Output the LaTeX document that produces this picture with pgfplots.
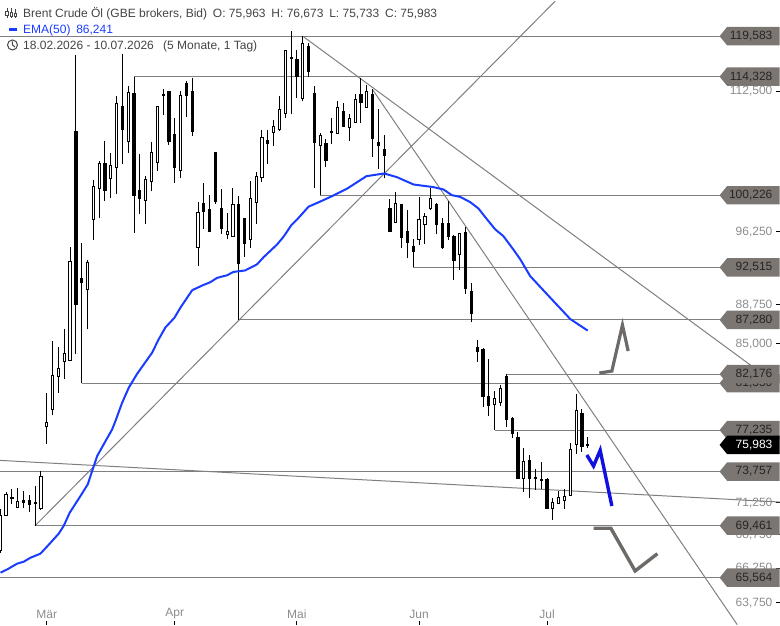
\documentclass[border=0pt]{standalone}
\usepackage{fontspec}
\setmainfont{Liberation Sans}
\usepackage{pgfplots}
\usepackage{pgfplotstable}
\pgfplotsset{compat=1.18}
\definecolor{flagc}{HTML}{7B7671}
\definecolor{linec}{HTML}{7F7F7F}
\definecolor{tickc}{HTML}{8C8C8C}
\definecolor{headc}{HTML}{444444}
\definecolor{emac}{HTML}{1A3CFF}
\definecolor{projg}{HTML}{6E6A68}
\definecolor{projb}{HTML}{1010E0}
\pgfplotstableread{
o h l c
67.54 70.76 67.39 70.26
70.26 72.10 70.21 71.92
71.71 72.32 71.13 71.57
70.86 72.43 70.81 71.36
71.44 72.18 70.81 71.25
71.44 71.87 70.54 71.13
71.31 72.59 69.461 71.18
70.76 73.80 70.68 73.37
77.52 80.50 76.02 77.93
78.98 85.25 78.53 82.10
81.95 84.68 80.50 82.71
83.36 86.40 81.76 84.11
83.45 94.62 83.45 93.16
107.62 117.17 84.06 88.75
91.39 95.07 81.35 90.95
90.23 93.27 86.37 93.06
97.57 101.92 95.39 101.25
100.94 104.09 97.75 103.86
103.83 106.43 99.58 100.80
102.07 104.99 99.91 103.60
103.32 111.87 100.39 110.97
110.64 117.21 103.78 107.77
106.35 113.12 105.05 112.37
112.25 114.328 96.10 100.16
100.80 104.95 98.18 99.83
99.65 102.37 97.09 102.03
101.78 106.35 100.69 105.14
103.94 110.64 102.95 110.61
112.09 112.71 109.54 111.96
112.50 112.58 105.97 106.43
107.22 109.14 101.62 103.32
103.02 112.50 102.20 112.00
113.46 113.75 109.30 112.00
112.50 114.17 107.01 107.53
94.55 99.46 92.65 98.37
99.32 101.55 96.56 98.40
98.66 100.21 96.24 96.32
105.14 105.14 99.28 99.58
98.77 100.87 96.03 96.56
95.96 98.23 95.43 96.28
95.78 100.99 95.71 99.21
99.21 100.13 87.28 92.88
97.71 97.71 93.61 94.97
95.43 101.81 94.55 99.88
99.43 102.83 97.09 102.34
102.18 107.74 101.73 106.86
106.51 107.74 103.78 106.11
107.46 108.94 105.85 108.18
107.82 111.87 107.62 110.24
109.70 117.73 109.22 117.69
116.82 120.24 109.66 116.60
116.52 117.82 111.67 114.29
111.59 119.583 111.26 118.61
118.26 118.69 114.29 114.93
112.21 113.21 101.05 106.23
105.92 107.41 100.226 107.10
106.16 106.67 103.43 104.23
107.62 109.14 106.11 107.41
107.34 111.34 107.34 110.43
110.03 110.97 108.13 108.22
108.01 109.70 106.43 109.14
108.69 112.16 108.61 111.47
112.09 114.17 108.61 111.05
110.43 113.25 110.43 112.50
112.09 112.71 104.59 106.70
106.27 110.24 103.21 105.87
105.49 107.10 102.18 104.71
98.77 99.76 96.18 96.32
97.25 100.57 97.21 99.32
99.20 99.20 94.52 95.60
96.28 98.55 93.50 95.07
94.73 95.43 92.515 94.13
95.43 100.05 94.83 97.57
97.03 98.29 94.97 97.86
98.73 100.99 98.55 99.88
99.21 99.32 95.96 97.03
97.17 97.71 94.47 94.54
97.17 99.58 95.33 95.71
95.78 95.89 91.19 93.24
93.86 96.10 92.21 96.07
96.18 96.78 89.84 90.34
90.08 90.95 87.05 87.89
84.69 85.35 83.32 84.31
84.47 84.56 79.24 80.21
80.18 83.54 78.45 79.35
79.47 80.65 77.235 80.00
79.61 81.19 79.35 80.89
81.95 82.176 77.50 78.13
78.27 78.36 76.58 76.92
76.64 77.07 73.17 73.17
73.17 75.69 72.10 74.60
74.71 75.10 71.65 73.17
73.31 73.94 72.26 73.17
73.15 74.54 72.37 73.01
73.15 73.23 70.78 70.78
70.81 71.60 69.92 71.25
71.21 72.18 71.13 71.68
71.44 72.32 70.78 71.76
71.84 76.11 71.84 75.60
75.98 80.39 75.23 78.94
78.71 79.03 75.40 75.82
75.963 76.673 75.733 75.983
}\candles
\pgfplotstableread{
x y
0.05 65.93
1.2 66.17
2.9 66.59
4.05 66.74
5.2 67.03
6.9 67.33
8.3 67.99
10.06 68.85
10.9 69.43
11.95 70.47
13.8 71.79
15.05 72.72
15.8 73.80
16.66 75.04
18.1 76.30
19.24 77.30
19.8 78.01
20.95 79.61
22.1 80.95
23.5 82.18
26.1 84.15
27.24 85.42
28.4 86.55
29.94 87.48
31 88.49
33 90.2
34.9 90.72
36.1 91.0
37.3 91.45
39 91.71
40.1 92.05
42.1 92.2
44.15 92.83
45.3 93.58
47.6 94.90
48.7 95.71
50.05 96.96
51.3 97.75
53 98.96
55 99.52
57.3 100.2
59.6 100.95
62.95 102.37
66 102.68
68.2 102.26
71.05 101.43
74.5 101.13
76.2 100.87
77.65 100.23
79.1 100.04
80.8 99.46
82.2 98.77
83.7 97.57
85.1 96.50
86.5 95.78
88.2 94.38
89.4 93.35
91.1 91.63
95.1 89.12
98 87.36
101 86.241
}\ema
\newcommand{\fs}{\fontsize{12pt}{14pt}\selectfont}
\newcommand{\flag}[2][flagc]{%
  \fill[#1] (axis cs:123.67,#2) -- ([xshift=7.5pt,yshift=9.2pt]axis cs:123.67,#2) -- ([xshift=60.5pt,yshift=9.2pt]axis cs:123.67,#2) -- ([xshift=60.5pt,yshift=-9.2pt]axis cs:123.67,#2) -- ([xshift=7.5pt,yshift=-9.2pt]axis cs:123.67,#2) -- cycle;
}
\newcommand{\flagtext}[3][black!85]{%
  \node[anchor=east,inner sep=0pt,text=#1,font=\fs] at ([xshift=53pt]axis cs:123.67,#2) {#3};
}
\begin{document}
\begin{tikzpicture}
\path (0,0) rectangle (780pt,625pt);
\begin{axis}[
  at={(0,0)},anchor=south west,
  scale only axis,width=780pt,height=625pt,
  set layers,
  ymode=log,
  xmin=-0.04,xmax=133.98,ymin=62.23,ymax=124.48,
  axis line style={draw=none},
  xtick={8,30,51,72,94},
  xticklabels={Mär,Apr,Mai,Jun,Jul},
  ytick={63.75,66.25,68.75,71.25,85,88.75,96.25,112.5,125},
  yticklabels={{63,750},{66,250},{68,750},{71,250},{85,000},{88,750},{96,250},{112,500},{125,000}},
  minor tick num=0,
  yticklabel pos=right,
  xticklabel pos=lower,
  ytick pos=right,
  xtick pos=lower,
  tick align=inside,
  major tick length=3.5pt,
  tick style={black,line width=0.9pt},
  y tick label style={overlay,anchor=east,inner sep=0pt,xshift=-7pt,text=tickc,font=\fs},
  x tick label style={overlay,anchor=south,inner sep=0pt,yshift=5.5pt,text=tickc,font=\fs},
]
% support and resistance levels
\addplot[linec,line width=1.1pt] coordinates {(-0.04,119.583)(123.67,119.583)};
\addplot[linec,line width=1.1pt] coordinates {(23,114.328)(123.67,114.328)};
\addplot[linec,line width=1.1pt] coordinates {(55,100.226)(123.67,100.226)};
\addplot[linec,line width=1.1pt] coordinates {(71,92.515)(123.67,92.515)};
\addplot[linec,line width=1.1pt] coordinates {(41,87.28)(123.67,87.28)};
\addplot[linec,line width=1.1pt] coordinates {(87,82.176)(123.67,82.176)};
\addplot[linec,line width=1.1pt] coordinates {(14,81.35)(123.67,81.35)};
\addplot[linec,line width=1.1pt] coordinates {(85,77.235)(123.67,77.235)};
\addplot[linec,line width=1.1pt] coordinates {(-0.04,73.757)(123.67,73.757)};
\addplot[linec,line width=1.1pt] coordinates {(6,69.461)(123.67,69.461)};
\addplot[linec,line width=1.1pt] coordinates {(-0.04,65.564)(123.67,65.564)};
% trend lines
\addplot[linec,line width=1pt] coordinates {(6,69.461)(95.4,124.31)};
\addplot[linec,line width=1pt] coordinates {(52,119.583)(129.2,82.92)};
\addplot[linec,line width=1pt] coordinates {(64,112.71)(126.7,62.23)};
\addplot[linec,line width=1pt] coordinates {(-0.04,74.68)(133.98,71.31)};
% candles
\pgfplotsinvokeforeach{0,...,101}{%
  \pgfplotstablegetelem{#1}{o}\of\candles \let\cO\pgfplotsretval
  \pgfplotstablegetelem{#1}{h}\of\candles \let\cH\pgfplotsretval
  \pgfplotstablegetelem{#1}{l}\of\candles \let\cL\pgfplotsretval
  \pgfplotstablegetelem{#1}{c}\of\candles \let\cC\pgfplotsretval
  \pgfmathtruncatemacro\cUp{\cC>\cO ? 1 : 0}%
  \ifnum\cUp=1 \def\cF{white}\else\def\cF{black}\fi
  \pgfmathsetmacro\xa{#1-0.19}\pgfmathsetmacro\xb{#1+0.19}%
  \edef\tmp{\noexpand\addplot[black,line width=1pt] coordinates {(#1,\cL)(#1,\cH)};}\tmp
  \edef\tmp{\noexpand\addplot[draw=black,fill=\cF,line width=0.9pt] coordinates {(\xa,\cO)(\xb,\cO)(\xb,\cC)(\xa,\cC)} --cycle;}\tmp
}
% EMA(50)
\addplot[emac,line width=2pt,line join=round] table[x=x,y=y] {\ema};
% projections
\addplot[projg,line width=3.2pt,line join=miter] coordinates {(103,82.28)(105.15,82.46)(106.97,86.78)(107.95,84.31)};
\addplot[projb,line width=3.4pt,line join=miter] coordinates {(100.85,75.13)(102,74.21)(103.14,75.52)(105.15,70.99)};
\addplot[projg,line width=3.4pt,line join=miter] coordinates {(102,69.26)(104.98,69.26)(109.15,66.05)(112.98,67.33)};
% price flags
\flag{119.583} \flagtext{119.583}{119,583}
\flag{114.328} \flagtext{114.328}{114,328}
\flag{100.226} \flagtext{100.226}{100,226}
\flag{92.515} \flagtext{92.515}{92,515}
\flag{87.28} \flagtext{87.28}{87,280}
\flag{81.35} \flagtext{81.35}{81,350}
\flag{82.176} \flagtext{82.176}{82,176}
\flag{77.235} \flagtext{77.235}{77,235}
\flag[black]{75.983} \flagtext[white]{75.983}{75,983}
\flag{73.757} \flagtext{73.757}{73,757}
\flag{69.461} \flagtext{69.461}{69,461}
\flag{65.564} \flagtext{65.564}{65,564}
\end{axis}
% header
\begin{scope}[yshift=625pt,x=1pt,y=-1pt]
\node[anchor=west,inner sep=0pt,text=headc,font=\fs] at (23,14) {Brent Crude Öl (GBE brokers, Bid)\hspace{2.5pt} O: 75,963\hspace{2.5pt} H: 76,673\hspace{2.5pt} L: 75,733\hspace{2.5pt} C: 75,983};
\node[anchor=west,inner sep=0pt,text=emac,font=\fs] at (23,30) {EMA(50)\hspace{2.5pt} 86,241};
\node[anchor=west,inner sep=0pt,text=headc,font=\fs] at (23,46) {18.02.2026 - 10.07.2026\hspace{6pt} (5 Monate, 1 Tag)};
\fill[emac] (9,28.2) rectangle (17,30.8);
\draw[headc,line width=1pt] (12.5,45) circle (5);
\draw[headc,line width=1pt] (12.5,41.5) -- (12.5,45) -- (15,47);
\foreach \xx/\ya/\yb/\yc/\yd in {7/8/11/15/18,11.5/8/12/16/18,15.5/9/13/16/18}{
  \draw[headc,line width=0.8pt] (\xx,\ya) -- (\xx,\yd);
  \draw[headc,fill=white,line width=0.8pt] (\xx-1.2,\yb) rectangle (\xx+1.2,\yc);
}
\end{scope}
\end{tikzpicture}
\end{document}
